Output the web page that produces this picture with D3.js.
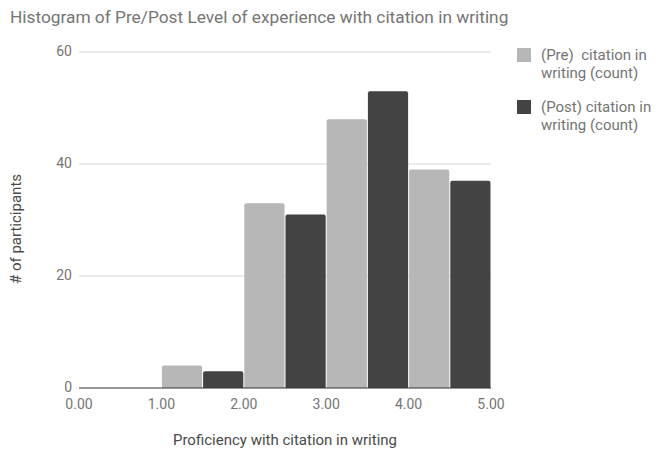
<!DOCTYPE html>
<html>
<head>
<meta charset="utf-8">
<script src="https://cdn.jsdelivr.net/npm/d3@7"></script>
<style>
  body { margin: 0; background: #fff; }
  svg { font-family: Roboto, "Noto Sans", sans-serif; }
</style>
</head>
<body>
<svg id="chart" width="668" height="450"></svg>
<script>
// Histogram bins (score ranges) and per-bin counts
const binStarts = [0, 1, 2, 3, 4];
const binWidth = 1;
const preCounts = [0, 4, 33, 48, 39];
const postCounts = [0, 3, 31, 53, 37];
const legendLines = [["(Pre)  citation in", "writing (count)"], ["(Post) citation in", "writing (count)"]];
const seriesColors = ["#b7b7b7", "#434343"];
const xTicks = [0, 1, 2, 3, 4, 5];
const yTicks = [0, 20, 40, 60];

const svg = d3.select("#chart");
const margin = { left: 79, right: 177, top: 52, bottom: 62 };
const W = 668, H = 450;

const x = d3.scaleLinear().domain([0, 5]).range([margin.left, W - margin.right]);
const y = d3.scaleLinear().domain([0, 60]).range([H - margin.bottom, margin.top]);

const textColor = "#757575";

// Title
svg.append("text")
  .attr("x", 10).attr("y", 23)
  .attr("font-size", 17.3)
  .attr("fill", textColor)
  .text("Histogram of Pre/Post Level of experience with citation in writing");

// Gridlines
svg.append("g")
  .selectAll("line")
  .data(yTicks.filter(d => d !== 0))
  .join("line")
  .attr("x1", x(0)).attr("x2", x(5))
  .attr("y1", d => y(d)).attr("y2", d => y(d))
  .attr("stroke", "#d9d9d9").attr("stroke-width", 1);

// Y tick labels
svg.append("g")
  .selectAll("text")
  .data(yTicks)
  .join("text")
  .attr("x", x(0) - 7)
  .attr("y", d => y(d) + 4)
  .attr("text-anchor", "end")
  .attr("font-size", 14)
  .attr("fill", textColor)
  .text(d => d);

// Bars: each bin is split into Pre (left half) and Post (right half)
const bars = [];
binStarts.forEach((b, i) => {
  bars.push({ x0: b, x1: b + binWidth / 2, v: preCounts[i], s: 0 });
  bars.push({ x0: b + binWidth / 2, x1: b + binWidth, v: postCounts[i], s: 1 });
});

svg.append("g")
  .selectAll("path")
  .data(bars.filter(d => d.v > 0))
  .join("path")
  .attr("fill", d => seriesColors[d.s])
  .attr("d", d => {
    const l = x(d.x0) + 0.5, r = x(d.x1) - 0.5;
    const t = y(d.v), bt = y(0);
    const rr = 2;
    return `M${l},${bt} L${l},${t + rr} Q${l},${t} ${l + rr},${t} L${r - rr},${t} Q${r},${t} ${r},${t + rr} L${r},${bt} Z`;
  });

// Baseline
svg.append("line")
  .attr("x1", x(0)).attr("x2", x(5))
  .attr("y1", y(0)).attr("y2", y(0))
  .attr("stroke", "#333").attr("stroke-width", 1.2);

// X tick labels
svg.append("g")
  .selectAll("text")
  .data(xTicks)
  .join("text")
  .attr("x", d => x(d))
  .attr("y", y(0) + 21)
  .attr("text-anchor", "middle")
  .attr("font-size", 14)
  .attr("fill", textColor)
  .text(d => d.toFixed(2));

// Axis titles
svg.append("text")
  .attr("x", x(2.5)).attr("y", 445)
  .attr("text-anchor", "middle")
  .attr("font-size", 15)
  .attr("fill", "#4a4a4a")
  .text("Proficiency with citation in writing");

svg.append("text")
  .attr("transform", "translate(21,229) rotate(-90)")
  .attr("text-anchor", "middle")
  .attr("font-size", 15)
  .attr("fill", "#4a4a4a")
  .text("# of participants");

// Legend
const legend = svg.append("g");
legendLines.forEach((lines, i) => {
  const gy = 48 + i * 52;
  legend.append("rect")
    .attr("x", 517).attr("y", gy)
    .attr("width", 14).attr("height", 14)
    .attr("fill", seriesColors[i]);
  lines.forEach((ln, j) => {
    legend.append("text")
      .attr("x", 541).attr("y", gy + 12 + j * 17.6)
      .attr("font-size", 15)
      .attr("fill", textColor)
      .style("white-space", "pre")
      .text(ln);
  });
});
</script>
</body>
</html>
